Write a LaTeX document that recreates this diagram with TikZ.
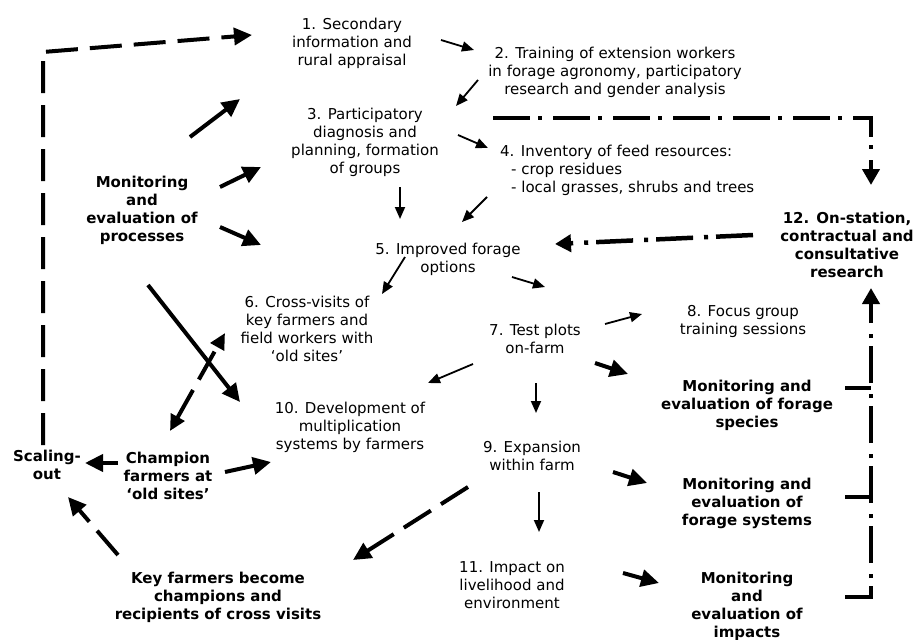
\documentclass[tikz,border=0pt]{standalone}
\usepackage{fontspec}
\setmainfont{DejaVu Sans}
\usetikzlibrary{arrows.meta,calc}
\begin{document}
\begin{tikzpicture}[x=1pt,y=-1pt,
  txt/.style={align=center,inner sep=0pt,font=\fontsize{15}{18}\selectfont},
  btxt/.style={align=center,inner sep=0pt,font=\fontsize{15}{18}\selectfont\bfseries},
  tarr/.style={line width=1.8pt,-{Triangle[length=12pt,width=10pt]}},
  karr/.style={line width=4pt,-{Triangle[length=18pt,width=17pt]}},
  darr/.style={line width=4pt,dash pattern=on 32pt off 12pt,-{Triangle[length=18pt,width=17pt]}},
  dline/.style={line width=4pt,dash pattern=on 32pt off 12pt},
  ddline/.style={line width=4.5pt,dash pattern=on 37pt off 8pt on 4pt off 11pt},
  ddarr/.style={ddline,-{Triangle[length=16pt,width=17pt]}},
  stub/.style={line width=4.5pt},
]
\useasboundingbox (0,0) rectangle (922,640);
% nodes
\node[txt] (n1) at (352,43) {1. Secondary\\information and\\rural appraisal};
\node[txt] (n2) at (615,72) {2. Training of extension workers\\in forage agronomy, participatory\\research and gender analysis};
\node[txt] (n3) at (365,142) {3. Participatory\\diagnosis and\\planning, formation\\of groups};
\node[txt,align=left,anchor=west] (n4) at (500,170) {4. Inventory of feed resources:\\\hspace*{11pt}- crop residues\\\hspace*{11pt}- local grasses, shrubs and trees};
\node[txt] (n5) at (448,259) {5. Improved forage\\options};
\node[txt] (n6) at (307,329) {6. Cross-visits of\\key farmers and\\field workers with\\‘old sites’};
\node[txt] (n7) at (535,339) {7. Test plots\\on-farm};
\node[txt] (n8) at (743,321) {8. Focus group\\training sessions};
\node[txt] (n9) at (532,456) {9. Expansion\\within farm};
\node[txt] (n10) at (350,427) {10. Development of\\multiplication\\systems by farmers};
\node[txt] (n11) at (512,585) {11. Impact on\\livelihood and\\environment};
\node[btxt] (mon) at (142,210) {Monitoring\\and\\evaluation of\\processes};
\node[btxt] (n12) at (847,245) {12. On-station,\\contractual and\\consultative\\research};
\node[btxt] (mesp) at (747,405) {Monitoring and\\evaluation of forage\\species};
\node[btxt] (mesy) at (747,503) {Monitoring and\\evaluation of\\forage systems};
\node[btxt] (meim) at (747,606) {Monitoring\\and\\evaluation of\\impacts};
\node[btxt] (scal) at (47,465) {Scaling-\\out};
\node[btxt] (champ) at (168,476) {Champion\\farmers at\\‘old sites’};
\node[btxt] (key) at (218,597) {Key farmers become\\champions and\\recipients of cross visits};
% thin arrows
\draw[tarr] ($(n1)+(89,-3)$) -- ($(n2)+(-141,-22)$);
\draw[tarr] ($(n2)+(-137,8)$) -- ($(n3)+(91,-36)$);
\draw[tarr] ($(n3)+(93,-7)$) -- ($(n4.west)+(-12,-22)$);
\draw[tarr] ($(n3)+(35,45)$) -- ($(n5)+(-48,-40)$);
\draw[tarr] ($(n4.west)+(-13,27)$) -- ($(n5)+(14,-37)$);
\draw[tarr] ($(n5)+(-43,-2)$) -- ($(n6)+(75,-35)$);
\draw[tarr] ($(n5)+(64,18)$) -- ($(n7)+(10,-52)$);
\draw[tarr] ($(n7)+(70,-15)$) -- ($(n8)+(-101,-7)$);
\draw[tarr] ($(n7)+(1,44)$) -- ($(n9)+(4,-43)$);
\draw[tarr] ($(n7)+(-62,25)$) -- ($(n10)+(78,-44)$);
\draw[tarr] ($(n9)+(7,36)$) -- ($(n11)+(27,-53)$);
% thick arrows
\draw[karr] ($(mon)+(48,-73)$) -- ($(n3)+(-125,-43)$);
\draw[karr] ($(mon)+(78,-23)$) -- ($(n3)+(-104,25)$);
\draw[karr] ($(mon)+(78,17)$) -- ($(n5)+(-187,-14)$);
\draw[karr] ($(mon)+(6,75)$) -- ($(n10)+(-110,-25)$);
\draw[karr] ($(n7)+(60,24)$) -- ($(mesp)+(-119,-31)$);
\draw[karr] ($(champ)+(-50,-13)$) -- ($(scal)+(38,-2)$);
\draw[karr] ($(champ)+(57,-4)$) -- ($(n10)+(-79,35)$);
\draw[karr] ($(n9)+(81,16)$) -- ($(mesy)+(-100,-20)$);
\draw[karr] ($(n11)+(111,-12)$) -- ($(meim)+(-88,-23)$);
% dashed arrows
\draw[darr,{Triangle[length=16pt,width=15pt]}-{Triangle[length=16pt,width=15pt]}] ($(champ)+(2,-45)$) -- ($(n6)+(-82,4)$);
\draw[darr] ($(n9)+(-64,31)$) -- ($(key)+(135,-37)$);
\draw[darr] ($(key)+(-100,-42)$) -- ($(scal)+(21,32)$);
\coordinate (loopc) at ($(scal)+(-4,-413)$);
\draw[darr] ($(scal)+(-4,-20)$) -- (loopc) -- ($(n1)+(-100,-8)$);
% dash-dot arrows
\draw[ddarr] ($(n12)+(-94,-10)$) -- ($(n5)+(107,-15)$);
\draw[ddarr] ($(n3)+(128,-24)$) -| ($(n12)+(24,-60)$);
\draw[ddarr] ($(meim)+(98,-9)$) -| ($(n12)+(24,43)$);
\draw[stub] ($(mesp)+(98,-17)$) -- ++(26.25,0);
\draw[stub] ($(mesy)+(98,-6)$) -- ++(26.25,0);
\end{tikzpicture}
\end{document}
